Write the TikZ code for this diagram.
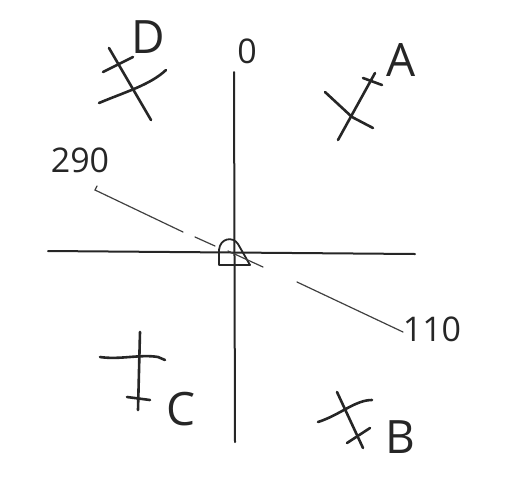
\documentclass[tikz,border=0pt]{standalone}
\usepackage{fontspec}
\setmainfont{Open Sans}
\begin{document}
\begin{tikzpicture}[x=1pt,y=-1pt,
  pen/.style={line width=2.6pt,line cap=round,line join=round,black!85},
  axis/.style={line width=2pt,line cap=round,black!85},
  thin line/.style={line width=1.2pt,line cap=round,black!75},
  lettertxt/.style={font=\fontsize{46}{46}\selectfont,text=black!85,inner sep=0pt},
  numtxt/.style={font=\fontsize{34}{34}\selectfont,text=black!85,inner sep=0pt}]
\useasboundingbox (0,0) rectangle (514,480);
% axes
\draw[axis] (234,72) -- (235,442);
\draw[axis] (48,251) -- (415,254);
% origin symbol
\draw[line width=1.8pt,line join=round,black!85] (219,265) -- (219,250) .. controls (220,238) and (233,236) .. (238,244) -- (250,265) -- cycle;
% bearing line 290 - 110
\draw[thin line] (97,186) -- (95,190) -- (183,232);
\draw[thin line] (195,237) -- (215,246);
\draw[thin line] (228,251) -- (263,267);
\draw[thin line] (297,282) -- (403,332);
% labels
\node[numtxt] (n0) at (247,51) {0};
\node[numtxt] (n290) at (80,160) {290};
\node[numtxt] (n110) at (432,329) {110};
\node[lettertxt] (lA) at (401,60) {A};
\node[lettertxt] (lD) at (148,37) {D};
\node[lettertxt] (lC) at (181,409) {C};
\node[lettertxt] (lB) at (400,437) {B};
% cross A
\draw[pen] (338,140) -- (375,73);
\draw[pen] (325,92) -- (352,117) -- (373,128);
\draw[pen] (363,78) -- (382,85);
% cross D
\draw[pen] (109,48) -- (151,120);
\draw[pen] (99,103) .. controls (125,92) and (150,85) .. (166,70);
\draw[pen] (103,72) -- (133,57);
% cross C
\draw[pen] (140,332) -- (138,410);
\draw[pen] (100,357) .. controls (120,360) and (140,354) .. (158,357) -- (165,360);
\draw[pen] (127,397) -- (150,400);
% cross B
\draw[pen] (337,392) -- (363,448);
\draw[pen] (318,422) .. controls (340,415) and (355,400) .. (372,400);
\draw[pen] (347,443) -- (370,428);
\end{tikzpicture}
\end{document}
